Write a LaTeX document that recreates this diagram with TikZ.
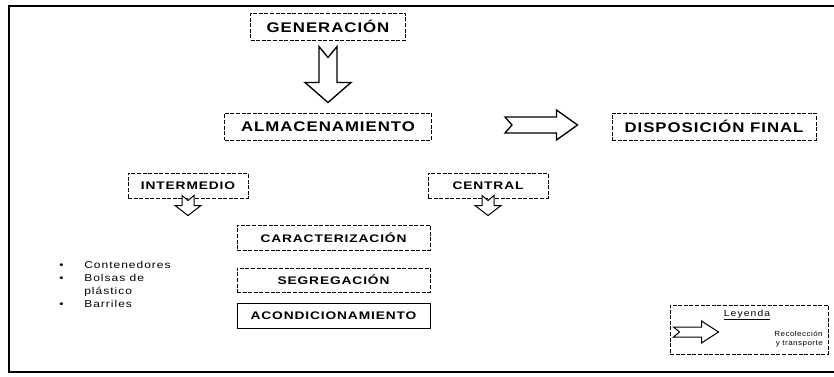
\documentclass[tikz,border=0pt]{standalone}
\usepackage{fontspec}
\setmainfont{Liberation Sans}
\newfontfamily\bigf[FakeStretch=1.2,LetterSpace=7]{Liberation Sans}
\newfontfamily\smallf[FakeStretch=1.25,LetterSpace=8]{Liberation Sans}
\newfontfamily\listf[FakeStretch=1.2,LetterSpace=10]{Liberation Sans}
\newfontfamily\legf[FakeStretch=1.1,LetterSpace=6]{Liberation Sans}
\newfontfamily\titf[FakeStretch=1.15,LetterSpace=12]{Liberation Sans}
\begin{document}
\begin{tikzpicture}[x=0.75pt,y=-0.75pt,
  box/.style={draw, line width=0.75pt, dash pattern=on 3pt off 1.2pt, inner sep=0pt, fill=white},
  bigbox/.style={box, minimum height=20.25pt, font=\bigf\bfseries\fontsize{10.5}{12}\selectfont},
  smallbox/.style={box, minimum height=18.75pt, font=\smallf\bfseries\fontsize{8.25}{10}\selectfont},
  barrow/.style={draw, line width=1pt, fill=white, line join=miter},
  sarrow/.style={draw, line width=0.75pt, fill=white, line join=miter}]
\useasboundingbox (0,0) rectangle (834,376);
\fill[white] (0,0) rectangle (834,376);
% frame
\draw[line width=1.2pt] (834,6) -- (9,6) -- (9,372) -- (834,372);
% boxes
\node[bigbox, minimum width=116.25pt] (gen) at (328,26.5) {GENERACIÓN};
\node[bigbox, minimum width=155.25pt] (alm) at (328,126.5) {ALMACENAMIENTO};
\node[bigbox, minimum width=153pt] (disp) at (714,126.5) {DISPOSICIÓN FINAL};
\node[smallbox, minimum width=90pt] (inter) at (188,185.5) {INTERMEDIO};
\node[smallbox, minimum width=90pt] (cent) at (488,185.5) {CENTRAL};
\node[smallbox, minimum width=144.75pt] (car) at (333.5,237.5) {CARACTERIZACIÓN};
\node[smallbox, minimum width=144.75pt, minimum height=18pt] (seg) at (333.5,280) {SEGREGACIÓN};
\node[smallbox, minimum width=144.75pt, solid] (acon) at (333.5,315.5) {ACONDICIONAMIENTO};
% big down arrow
\draw[barrow] ([shift={(-9,6)}]gen.south) -- ([shift={(0,17)}]gen.south) -- ([shift={(9,6)}]gen.south)
  -- ([shift={(9,-30)}]alm.north) -- ([shift={(23,-30)}]alm.north) -- ([shift={(0,-10)}]alm.north)
  -- ([shift={(-23,-30)}]alm.north) -- ([shift={(-9,-30)}]alm.north) -- cycle;
% right arrow
\draw[barrow] ([shift={(73,-9.5)}]alm.east) -- ([shift={(-55,-9.5)}]disp.west) -- ([shift={(-55,-16.5)}]disp.west)
  -- ([shift={(-34,-1.5)}]disp.west) -- ([shift={(-55,13.5)}]disp.west) -- ([shift={(-55,6.5)}]disp.west)
  -- ([shift={(73,6.5)}]alm.east) -- ([shift={(80,-1.5)}]alm.east) -- cycle;
% small arrows
\foreach \n in {inter,cent}{
  \draw[sarrow] ([shift={(-6,-3)}]\n.south) -- ([shift={(0,2)}]\n.south) -- ([shift={(6,-3)}]\n.south)
    -- ([shift={(6,7)}]\n.south) -- ([shift={(13,7)}]\n.south) -- ([shift={(0,17)}]\n.south)
    -- ([shift={(-13,7)}]\n.south) -- ([shift={(-6,7)}]\n.south) -- cycle;
}
% bullet list
\node[anchor=north west, inner sep=0pt, font=\listf\fontsize{7.5}{9.75}\selectfont] (lst) at (59,259)
  {\begin{tabular}{@{}p{18.75pt}@{}l@{}}
   \textbullet & Contenedores\\
   \textbullet & Bolsas de\\
   & plástico\\
   \textbullet & Barriles
   \end{tabular}};
% legend
\node[box, minimum width=118.5pt, minimum height=36.75pt] (leg) at (749,329.5) {};
\node[inner sep=0pt, font=\titf\fontsize{6.75}{8}\selectfont] (legtitle) at (747,315) {\underline{Leyenda}};
\node[inner sep=0pt, anchor=east, align=right, font=\legf\fontsize{5.5}{7}\selectfont] (legtxt) at (823,339) {Recolección\\y transporte};
\draw[sarrow] ([shift={(4,-2.5)}]leg.west) -- ([shift={(32,-2.5)}]leg.west) -- ([shift={(32,-8.5)}]leg.west)
  -- ([shift={(49,2.5)}]leg.west) -- ([shift={(32,13.5)}]leg.west) -- ([shift={(32,7.5)}]leg.west)
  -- ([shift={(4,7.5)}]leg.west) -- ([shift={(10,2.5)}]leg.west) -- cycle;
\end{tikzpicture}
\end{document}
